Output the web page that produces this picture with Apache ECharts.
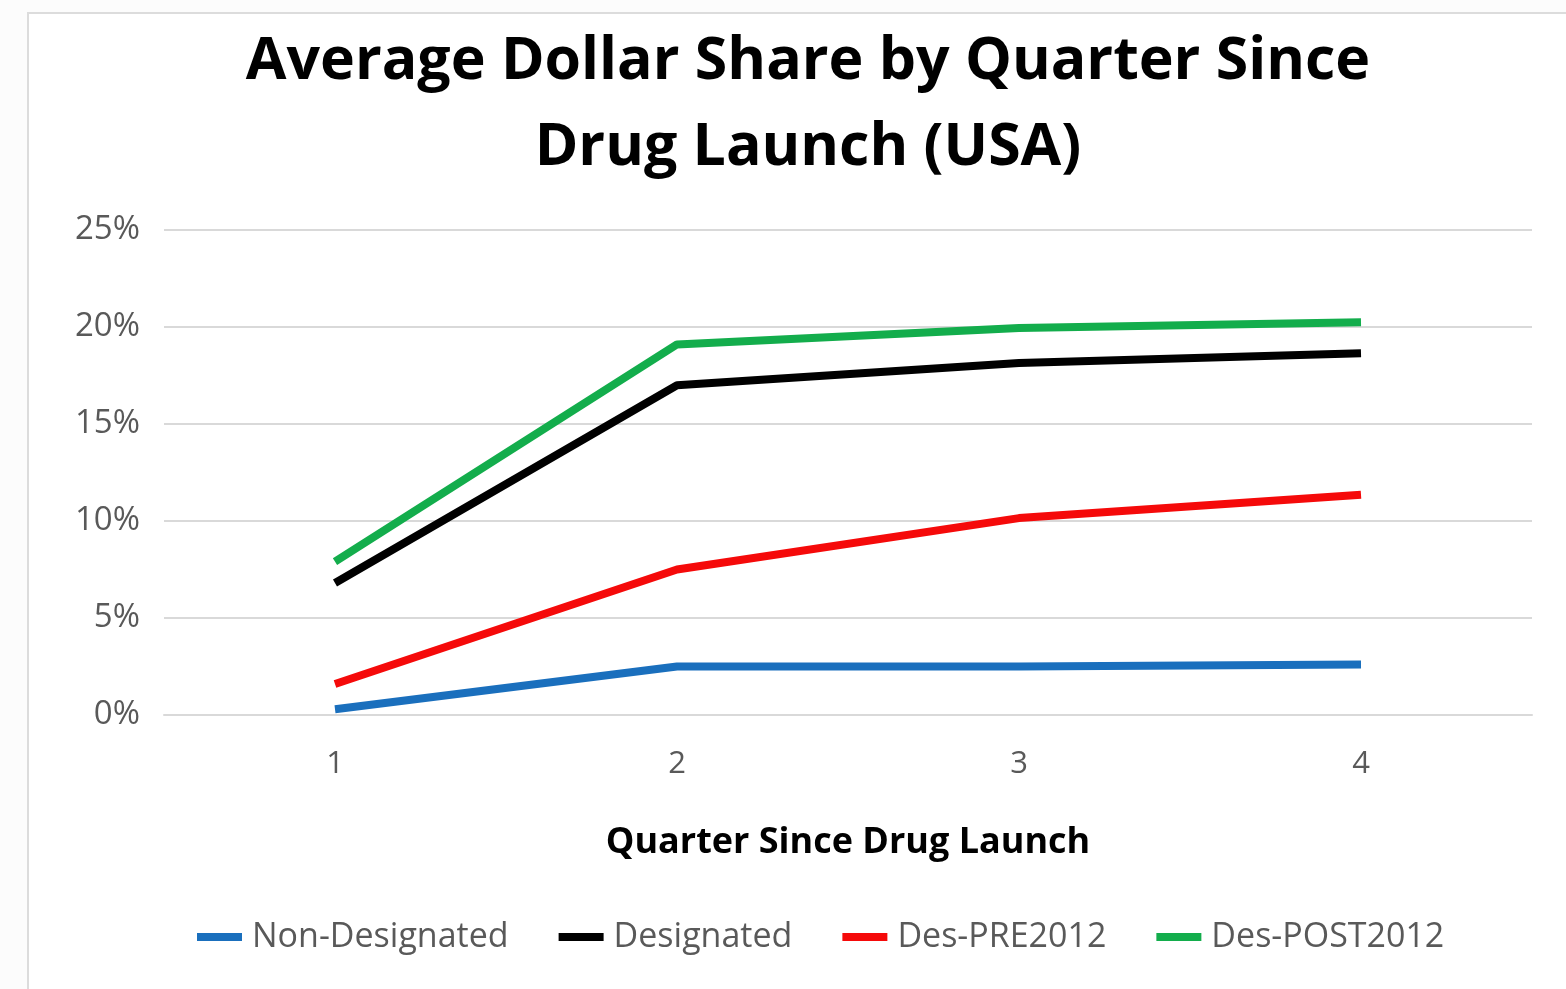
<!DOCTYPE html>
<html>
<head>
<meta charset="utf-8">
<script src="https://cdn.jsdelivr.net/npm/echarts@6/dist/echarts.min.js"></script>
<style>
  html, body { margin: 0; padding: 0; background: #fcfcfc; }
  #chart { width: 1566px; height: 989px; }
</style>
</head>
<body>
<div id="chart"></div>
<script>
// quarters since launch
const quarters = ["1", "2", "3", "4"];
// average dollar share, %
const nonDesignated = [0.3, 2.5, 2.5, 2.6];
const designated = [6.8, 17.0, 18.15, 18.65];
const desPre2012 = [1.6, 7.5, 10.15, 11.35];
const desPost2012 = [7.9, 19.1, 19.95, 20.25];

const font = "'Open Sans', 'Noto Sans', sans-serif";
const chart = echarts.init(document.getElementById("chart"));

function line(name, color, data) {
  return {
    name: name,
    type: "line",
    data: data,
    symbol: "none",
    lineStyle: { color: color, width: 8, cap: "butt" },
    itemStyle: { color: color }
  };
}

chart.setOption({
  backgroundColor: "#fcfcfc",
  animation: false,
  graphic: [{
    type: "rect",
    left: 27, top: 12,
    shape: { width: 1600, height: 1000 },
    style: { fill: "#ffffff", stroke: "#dcdcdc", lineWidth: 2 },
    z: -10
  }],
  title: {
    text: "Average Dollar Share by Quarter Since\nDrug Launch (USA)",
    left: 803,
    textAlign: "center",
    top: 14,
    textStyle: {
      fontFamily: font,
      fontWeight: "bold",
      fontSize: 59,
      lineHeight: 86,
      color: "#000"
    }
  },
  legend: {
    bottom: 30,
    left: 192,
    icon: "rect",
    itemWidth: 45,
    itemHeight: 8,
    itemGap: 50,
    textStyle: { fontFamily: font, fontSize: 34, color: "#595959", padding: [0, 0, 0, 5] },
    data: ["Non-Designated", "Designated", "Des-PRE2012", "Des-POST2012"]
  },
  grid: { left: 164, right: 34, top: 230, bottom: 274 },
  xAxis: {
    type: "category",
    data: quarters,
    boundaryGap: true,
    name: "Quarter Since Drug Launch",
    nameLocation: "middle",
    nameGap: 110,
    nameTextStyle: { fontFamily: font, fontWeight: "bold", fontSize: 36, color: "#000" },
    axisLine: { lineStyle: { color: "#d9d9d9", width: 2 } },
    axisTick: { show: false },
    axisLabel: { fontFamily: font, fontSize: 31, color: "#595959", margin: 34 }
  },
  yAxis: {
    type: "value",
    min: 0,
    max: 25,
    interval: 5,
    axisLine: { show: false },
    axisTick: { show: false },
    axisLabel: { fontFamily: font, fontSize: 33, color: "#595959", margin: 24, formatter: "{value}%" },
    splitLine: { lineStyle: { color: "#d9d9d9", width: 2 } }
  },
  series: [
    line("Non-Designated", "#1a6fbd", nonDesignated),
    line("Designated", "#000000", designated),
    line("Des-PRE2012", "#f50a0a", desPre2012),
    line("Des-POST2012", "#13ad4c", desPost2012)
  ]
});
</script>
</body>
</html>
